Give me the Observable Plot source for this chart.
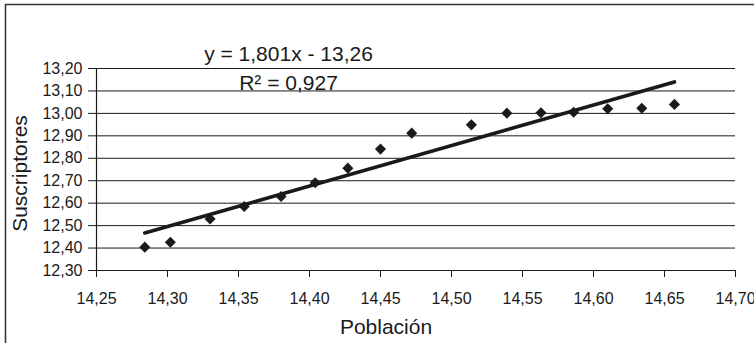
<!DOCTYPE html>
<html>
<head>
<meta charset="utf-8">
<script src="https://cdn.jsdelivr.net/npm/d3@7"></script>
<script src="https://cdn.jsdelivr.net/npm/@observablehq/plot@0.6"></script>
<style>
  html, body { margin: 0; padding: 0; background: #fff; }
</style>
</head>
<body>
<div id="chart"></div>
<script>
// Data
const poblacion = [14.284, 14.302, 14.330, 14.354, 14.380, 14.404, 14.427, 14.450, 14.472,
                   14.514, 14.539, 14.563, 14.586, 14.610, 14.634, 14.657];
const suscriptores = [12.404, 12.426, 12.530, 12.585, 12.630, 12.691, 12.756, 12.841, 12.912,
                      12.949, 13.001, 13.003, 13.005, 13.021, 13.023, 13.040];
const xTicks = [14.25, 14.30, 14.35, 14.40, 14.45, 14.50, 14.55, 14.60, 14.65, 14.70];
const yTicks = [12.30, 12.40, 12.50, 12.60, 12.70, 12.80, 12.90, 13.00, 13.10, 13.20];
const equationLines = ["y = 1,801x - 13,26", "R² = 0,927"];
const xTitle = "Población";
const yTitle = "Suscriptores";

const data = poblacion.map((p, i) => ({x: p, y: suscriptores[i]}));
const fmt = d => d.toFixed(2).replace(".", ",");
const ink = "#1a1a1a";

const chart = Plot.plot({
  width: 754,
  height: 343,
  marginLeft: 96,
  marginRight: 19,
  marginTop: 68,
  marginBottom: 73,
  style: {
    fontFamily: "'Liberation Sans', Arial, sans-serif",
    fontSize: "16px",
    color: ink,
    background: "#fff",
    overflow: "visible"
  },
  x: {domain: [xTicks[0], xTicks[xTicks.length - 1]]},
  y: {domain: [yTicks[0], yTicks[yTicks.length - 1]]},
  marks: [
    Plot.gridY(yTicks.slice(1), {stroke: ink, strokeOpacity: 1, strokeWidth: 1}),
    Plot.axisX(xTicks, {tickSize: 7, tickPadding: 15, tickFormat: fmt, label: null, stroke: ink, fontSize: 16}),
    Plot.axisY(yTicks, {tickSize: 8, tickPadding: 6, tickFormat: fmt, label: null, stroke: ink, fontSize: 16}),
    Plot.ruleX([xTicks[0]], {stroke: ink, strokeWidth: 1.2}),
    Plot.ruleY([yTicks[0]], {stroke: ink, strokeWidth: 1.2}),
    Plot.linearRegressionY(data, {x: "x", y: "y", stroke: ink, strokeWidth: 3.6, ci: 0}),
    Plot.dot(data, {x: "x", y: "y", symbol: "diamond2", r: 5, fill: ink, stroke: "none"}),
    Plot.text([equationLines[0]], {frameAnchor: "top-left", dx: 192, dy: -14, text: d => d,
      fontSize: 21, textAnchor: "middle", lineAnchor: "middle", fill: ink}),
    Plot.text([equationLines[1]], {frameAnchor: "top-left", dx: 192, dy: 15, text: d => d,
      fontSize: 21, textAnchor: "middle", lineAnchor: "middle", fill: ink}),
    Plot.text([xTitle], {frameAnchor: "bottom", dx: -30, dy: 57, text: d => d,
      fontSize: 21, textAnchor: "middle", lineAnchor: "middle", fill: ink}),
    Plot.text([yTitle], {frameAnchor: "left", dx: -76, dy: 4, text: d => d, rotate: -90,
      fontSize: 21, textAnchor: "middle", lineAnchor: "middle", fill: ink})
  ]
});

// outer chart border (left and top edges visible in reference)
d3.select(chart).append("rect")
  .attr("x", 5.5).attr("y", 4.5)
  .attr("width", 800).attr("height", 400)
  .attr("fill", "none").attr("stroke", "#333").attr("stroke-width", 1.5);

document.getElementById("chart").appendChild(chart);
</script>
</body>
</html>
